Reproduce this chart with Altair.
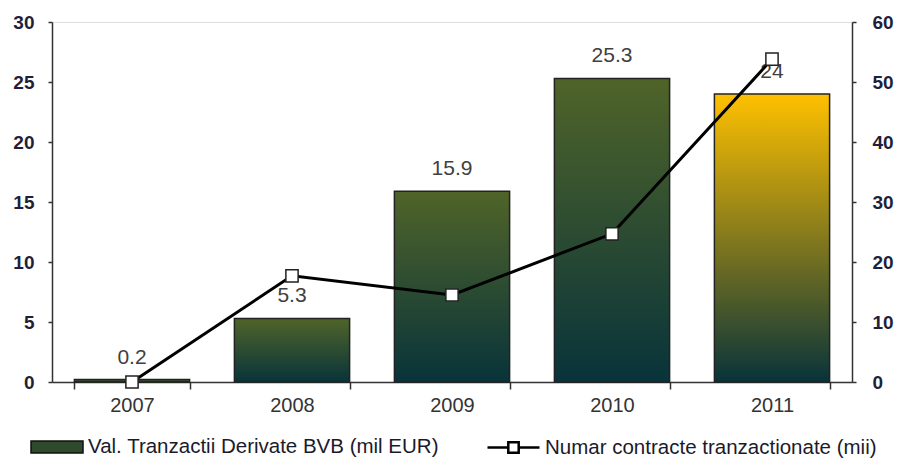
import altair as alt
import pandas as pd

years = ["2007", "2008", "2009", "2010", "2011"]
valori = [0.2, 5.3, 15.9, 25.3, 24]
contracte = [0.0, 17.7, 14.5, 24.7, 53.8]
bar_label = "Val. Tranzactii Derivate BVB (mil EUR)"
line_label = "Numar contracte tranzactionate (mii)"
highlight_year = "2011"

df = pd.DataFrame({
    "year": years,
    "val": valori,
    "contr": contracte,
    "lbl": [("%g" % v) for v in valori],
    "s1": bar_label,
    "s2": line_label,
})

FONT = "Liberation Sans"

def grad(top, bottom):
    return alt.Gradient(
        gradient="linear",
        stops=[alt.GradientStop(color=top, offset=0), alt.GradientStop(color=bottom, offset=1)],
        x1=0, x2=0, y1=0, y2=1,
    )

green = grad("#506429", "#08333a")
gold = grad("#ffc000", "#08333a")

xenc = alt.X(
    "year:N",
    title=None,
    scale=alt.Scale(paddingInner=0.28, paddingOuter=0.14),
    axis=alt.Axis(
        labelFont=FONT, labelFontSize=20, labelColor="#333333", labelPadding=6,
        labelAngle=0, tickBand="extent", tickSize=7, tickColor="#333333",
        tickWidth=1.5, domainColor="#333333", domainWidth=1.5,
    ),
)
yleft = alt.Y(
    "val:Q", title=None,
    scale=alt.Scale(domain=[0, 30]),
    axis=alt.Axis(
        values=[0, 5, 10, 15, 20, 25, 30], labelFont=FONT, labelFontSize=19,
        labelFontWeight="bold", labelColor="#1f1f3a", tickSize=4, tickColor="#333333",
        tickWidth=1.5, domainColor="#333333", domainWidth=1.5, grid=False, labelPadding=14,
    ),
)
yright = alt.Y(
    "contr:Q", title=None,
    scale=alt.Scale(domain=[0, 60]),
    axis=alt.Axis(
        orient="right", values=[0, 10, 20, 30, 40, 50, 60], labelFont=FONT,
        labelFontSize=19, labelFontWeight="bold", labelColor="#1f1f3a", tickSize=4,
        tickColor="#333333", tickWidth=1.5, domainColor="#333333", domainWidth=1.5,
        grid=False, labelPadding=16,
    ),
)

base = alt.Chart(df)

bars_green = base.transform_filter(alt.datum.year != highlight_year).mark_bar(
    fill=green, stroke="#222222", strokeWidth=1.5
).encode(x=xenc, y=yleft)

bars_gold = base.transform_filter(alt.datum.year == highlight_year).mark_bar(
    fill=gold, stroke="#222222", strokeWidth=1.5
).encode(x=xenc, y=yleft)

bar_legend = base.mark_bar(opacity=0).encode(
    x=xenc, y=yleft,
    fill=alt.Fill(
        "s1:N", scale=alt.Scale(range=["#2f4a2c"]),
        legend=alt.Legend(
            title=None, orient="none", legendX=-22, legendY=398,
            symbolType="M-1,-0.23H1V0.23H-1Z", symbolSize=2704,
            symbolOpacity=1, symbolStrokeColor="#111111", symbolStrokeWidth=1.5,
            labelFont=FONT, labelFontSize=20.5, labelColor="#1a1a2a", labelLimit=600,
            labelOffset=4,
        ),
    ),
)

bar_text = base.mark_text(
    font=FONT, fontSize=21, color="#404040", baseline="middle", dy=-22
).encode(x=xenc, y=yleft, text="lbl:N")

left = alt.layer(bars_green, bars_gold, bar_legend, bar_text)

line = base.mark_line(strokeWidth=3).encode(
    x=xenc, y=yright,
    stroke=alt.Stroke(
        "s2:N", scale=alt.Scale(range=["#000000"]),
        legend=alt.Legend(
            title=None, orient="none", legendX=434, legendY=398,
            symbolType="M-1,0H-0.2M0.2,0H1M-0.2,-0.2H0.2V0.2H-0.2Z",
            symbolFillColor="white", symbolSize=2704, symbolStrokeWidth=2.5,
            labelFont=FONT, labelFontSize=20.5, labelColor="#1a1a2a", labelLimit=600,
            labelOffset=4,
        ),
    ),
)
points = base.mark_square(size=150, fill="white", stroke="#222222", strokeWidth=1.5, opacity=1).encode(
    x=xenc, y=yright
)
right = alt.layer(line, points)

chart = alt.layer(left, right).resolve_scale(y="independent").properties(
    width=800, height=360,
    autosize=alt.AutoSizeParams(type="none"),
    padding={"left": 44, "top": 14, "right": 52, "bottom": 78},
).configure_view(stroke=None).configure(background="white")

chart.save("out.html", embed_options={"renderer": "svg", "actions": False})
